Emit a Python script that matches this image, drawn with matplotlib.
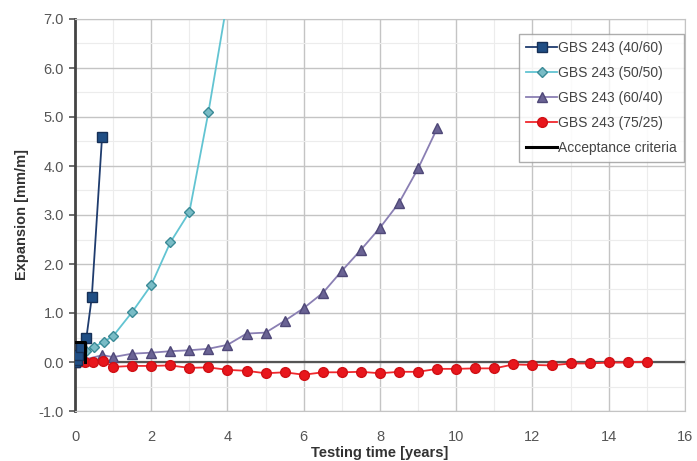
import matplotlib
matplotlib.use("Agg")
import matplotlib.pyplot as plt
from matplotlib.ticker import MultipleLocator, FormatStrFormatter

plt.rcParams['font.family'] = ['Liberation Sans', 'DejaVu Sans']

# GBS 243 (40/60)
t_4060 = [0, 0.04, 0.08, 0.17, 0.3, 0.44, 0.71]
e_4060 = [0, 0.05, 0.15, 0.3, 0.5, 1.32, 4.6]
# GBS 243 (50/50)
t_5050 = [0, 0.08, 0.17, 0.3, 0.5, 0.75, 1.0, 1.5, 2.0, 2.5, 3.0, 3.5, 4.0]
e_5050 = [0, 0.05, 0.12, 0.22, 0.31, 0.41, 0.53, 1.02, 1.57, 2.44, 3.06, 5.1, 7.4]
# GBS 243 (60/40)
t_6040 = [0, 0.08, 0.25, 0.72, 1.0, 1.5, 2.0, 2.5, 3.0, 3.5, 4.0, 4.5, 5.0,
          5.5, 6.0, 6.5, 7.0, 7.5, 8.0, 8.5, 9.0, 9.5]
e_6040 = [0, 0.02, 0.05, 0.14, 0.1, 0.17, 0.19, 0.22, 0.24, 0.27, 0.35, 0.58,
          0.6, 0.84, 1.1, 1.41, 1.86, 2.29, 2.74, 3.25, 3.95, 4.77]
# GBS 243 (75/25)
t_7525 = [0, 0.08, 0.26, 0.47, 0.74, 1.0, 1.5, 2.0, 2.5, 3.0, 3.5, 4.0, 4.5,
          5.0, 5.5, 6.0, 6.5, 7.0, 7.5, 8.0, 8.5, 9.0, 9.5, 10.0, 10.5, 11.0,
          11.5, 12.0, 12.5, 13.0, 13.5, 14.0, 14.5, 15.0]
e_7525 = [0, 0.0, 0.0, -0.01, 0.02, -0.1, -0.08, -0.08, -0.07, -0.12, -0.11,
          -0.16, -0.18, -0.23, -0.21, -0.26, -0.21, -0.21, -0.2, -0.23, -0.2,
          -0.2, -0.14, -0.14, -0.13, -0.13, -0.05, -0.06, -0.07, -0.03, -0.03,
          -0.01, -0.01, 0.01]
# Acceptance criteria
t_acc = [0, 0.25, 0.25]
e_acc = [0.4, 0.4, 0.0]

fig = plt.figure(figsize=(6.97, 4.61), dpi=100)
ax = fig.add_axes([75 / 697, 50 / 461, 610 / 697, 392 / 461])

ax.plot(t_4060, e_4060, color="#1f3c6e", lw=1.3, marker="s", ms=6.5,
        mfc="#1f4e85", mec="#163057", label="GBS 243 (40/60)", zorder=5)
ax.plot(t_5050, e_5050, color="#62c4d2", lw=1.3, marker="D", ms=5.5,
        mfc="#79bcc6", mec="#3a8a96", label="GBS 243 (50/50)", zorder=4)
ax.plot(t_6040, e_6040, color="#8a7fb3", lw=1.3, marker="^", ms=6.5,
        mfc="#6a6394", mec="#4f4878", label="GBS 243 (60/40)", zorder=4)
ax.plot(t_7525, e_7525, color="#f0282d", lw=1.3, marker="o", ms=7,
        mfc="#e8161c", mec="#d01015", label="GBS 243 (75/25)", zorder=4)
ax.plot(t_acc, e_acc, color="black", lw=2.2, label="Acceptance criteria",
        zorder=6)

ax.set_xlim(0, 16)
ax.set_ylim(-1, 7)
ax.xaxis.set_major_locator(MultipleLocator(2))
ax.xaxis.set_minor_locator(MultipleLocator(1))
ax.yaxis.set_major_locator(MultipleLocator(1))
ax.yaxis.set_minor_locator(MultipleLocator(0.5))
ax.yaxis.set_major_formatter(FormatStrFormatter("%.1f"))

ax.grid(which="major", color="#c4c4c4", lw=1.0)
ax.grid(which="minor", color="#ececec", lw=0.8)
ax.set_axisbelow(True)

# x axis line crosses at y = 0
ax.axhline(0, color="#555555", lw=1.6, zorder=3)
sec = ax.secondary_xaxis(1 / 8)
sec.xaxis.set_major_locator(MultipleLocator(2))
sec.tick_params(axis="x", direction="inout", length=5, color="#555555",
                labelbottom=False, labeltop=False)
sec.spines["bottom"].set_visible(False)
sec.spines["top"].set_visible(False)

ax.tick_params(axis="x", which="both", length=0, labelsize=10.5,
               labelcolor="#555555", pad=14)
ax.tick_params(axis="y", which="major", length=4, width=1.2, color="#555555",
               labelsize=10.5, labelcolor="#555555", pad=4)
ax.tick_params(axis="y", which="minor", length=0)

ax.spines["left"].set_color("#444444")
ax.spines["left"].set_linewidth(2)
for s in ["right", "top", "bottom"]:
    ax.spines[s].set_color("#c4c4c4")

ax.set_xlabel("Testing time [years]", fontsize=10.5, fontweight="bold",
              color="#333333", labelpad=1)
ax.set_ylabel("Expansion [mm/m]", fontsize=10.5, fontweight="bold",
              color="#333333", labelpad=7)

leg = fig.legend(loc="upper right", bbox_to_anchor=(691 / 697, 1 - 27 / 461),
                 fontsize=10, frameon=True, fancybox=False, handlelength=2.2,
                 handletextpad=0.1, borderpad=0.5, labelspacing=0.8,
                 labelcolor="#444444")
leg.get_frame().set_edgecolor("#999999")
leg.get_frame().set_linewidth(1.0)

fig.savefig("out.png", dpi=100)
